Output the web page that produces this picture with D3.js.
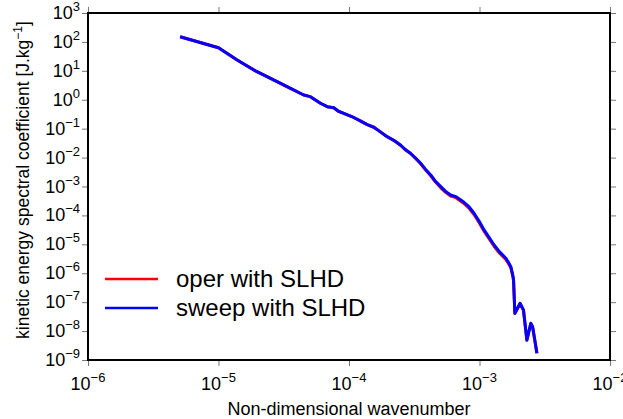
<!DOCTYPE html>
<html>
<head>
<meta charset="utf-8">
<script src="https://cdn.jsdelivr.net/npm/d3@7"></script>
<style>
body { margin: 0; background: #fff; }
text { font-family: "Liberation Sans", Arial, sans-serif; fill: #000; }
.tick line { stroke: #777; }
</style>
</head>
<body>
<svg id="chart" width="623" height="419"></svg>
<script>
// non-dimensional wavenumber (shared by both runs)
const wavenumber = [5.08e-6, 1.0e-5, 1.39e-5, 1.97e-5, 2.81e-5, 3.56e-5, 4.50e-5, 5.06e-5, 6.04e-5, 6.81e-5,
    7.64e-5, 8.3e-5, 9.12e-5, 1.05e-4, 1.22e-4, 1.38e-4, 1.55e-4, 1.75e-4, 1.96e-4, 2.2e-4,
    2.48e-4, 2.7e-4, 2.96e-4, 3.25e-4, 3.54e-4, 3.85e-4, 4.23e-4, 4.6e-4, 5.05e-4, 5.5e-4,
    6.01e-4, 6.6e-4, 7.1e-4, 7.6e-4, 8.3e-4, 9.08e-4, 1.0e-3, 1.084e-3, 1.18e-3, 1.294e-3,
    1.42e-3, 1.592e-3, 1.68e-3, 1.738e-3, 1.80e-3, 1.824e-3, 1.866e-3, 2.046e-3, 2.173e-3, 2.307e-3,
    2.472e-3, 2.553e-3, 2.754e-3];

// kinetic energy spectral coefficient [J/kg]
const operSLHD = [151, 63.1, 23.7, 9.33, 4.22, 2.49, 1.46, 1.28, 0.755, 0.575,
    0.531, 0.40, 0.340, 0.263, 0.185, 0.138, 0.112, 0.0759, 0.0528, 0.0395,
    0.0268, 0.0186, 0.0138, 9.2e-3, 6.1e-3, 3.8e-3, 2.35e-3, 1.42e-3, 9.0e-4, 6.3e-4,
    4.7e-4, 4.1e-4, 3.2e-4, 2.6e-4, 1.8e-4, 1.08e-4, 5.4e-5, 2.85e-5, 1.6e-5, 8.6e-6,
    5.0e-6, 3.0e-6, 2.05e-6, 1.55e-6, 8.0e-7, 5.5e-7, 4.0e-8, 8.8e-8, 5.2e-8, 4.8e-9,
    1.8e-8, 1.38e-8, 1.7e-9];

const sweepSLHD = [151, 63.1, 23.7, 9.33, 4.22, 2.49, 1.46, 1.28, 0.755, 0.575,
    0.531, 0.40, 0.340, 0.263, 0.185, 0.138, 0.112, 0.0759, 0.0528, 0.0398,
    0.0273, 0.019, 0.0141, 9.5e-3, 6.35e-3, 3.98e-3, 2.50e-3, 1.51e-3, 9.86e-4, 6.76e-4,
    5.09e-4, 4.47e-4, 3.55e-4, 2.84e-4, 2.0e-4, 1.19e-4, 6.0e-5, 3.14e-5, 1.78e-5, 9.5e-6,
    5.6e-6, 3.30e-6, 2.24e-6, 1.69e-6, 8.5e-7, 5.86e-7, 4.13e-8, 9.16e-8, 5.37e-8, 4.93e-9,
    1.86e-8, 1.42e-8, 1.71e-9];

const xExponents = [-6, -5, -4, -3, -2];
const yExponents = [-9, -8, -7, -6, -5, -4, -3, -2, -1, 0, 1, 2, 3];
const seriesNames = ["oper with SLHD", "sweep with SLHD"];
const seriesColors = ["#ff0000", "#0000ff"];

const width = 623, height = 419;
const margin = {top: 13, right: 13, bottom: 59, left: 88};

const svg = d3.select("#chart");

const x = d3.scaleLog().domain([1e-6, 1e-2]).range([margin.left, width - margin.right]);
const y = d3.scaleLog().domain([1e-9, 1e3]).range([height - margin.bottom, margin.top]);

const xTicks = xExponents.map(e => Math.pow(10, e));
const yTicks = yExponents.map(e => Math.pow(10, e));
const minus = e => (e < 0 ? "\u2212" + (-e) : "" + e);

// axes (ticks only, labels drawn below)
const drawAxis = (axis, tr) => {
    const g = svg.append("g").attr("transform", tr).call(axis);
    g.select(".domain").remove();
    g.selectAll(".tick line").attr("stroke", "#777").attr("stroke-width", 1);
    g.selectAll(".tick text").remove();
    return g;
};
drawAxis(d3.axisBottom(x).tickValues(xTicks).tickSize(6), `translate(0,${height - margin.bottom})`);
drawAxis(d3.axisTop(x).tickValues(xTicks).tickSize(6), `translate(0,${margin.top})`);
drawAxis(d3.axisLeft(y).tickValues(yTicks).tickSize(6), `translate(${margin.left},0)`);
drawAxis(d3.axisRight(y).tickValues(yTicks).tickSize(6), `translate(${width - margin.right},0)`);

// tick labels with superscripts
const xl = svg.append("g").selectAll("text").data(xExponents).join("text")
    .attr("x", d => x(Math.pow(10, d)))
    .attr("y", 390)
    .attr("text-anchor", "middle")
    .style("font-size", "18px");
xl.append("tspan").text("10");
xl.append("tspan").attr("dy", -8).style("font-size", "13px").text(d => minus(d));

const yl = svg.append("g").selectAll("text").data(yExponents).join("text")
    .attr("x", 80)
    .attr("y", d => y(Math.pow(10, d)) + 6)
    .attr("text-anchor", "end")
    .style("font-size", "18px");
yl.append("tspan").text("10");
yl.append("tspan").attr("dy", -8).style("font-size", "13px").text(d => minus(d));

// data lines
const line = d3.line().x(d => x(d[0])).y(d => y(d[1]));
[operSLHD, sweepSLHD].forEach((vals, i) => {
    svg.append("path")
        .datum(wavenumber.map((k, j) => [k, vals[j]]))
        .attr("fill", "none")
        .attr("stroke", seriesColors[i])
        .attr("stroke-width", 3)
        .attr("stroke-linejoin", "round")
        .attr("d", line);
});

// frame
svg.append("rect")
    .attr("x", margin.left).attr("y", margin.top)
    .attr("width", width - margin.left - margin.right)
    .attr("height", height - margin.top - margin.bottom)
    .attr("fill", "none").attr("stroke", "#000").attr("stroke-width", 2);

// legend
seriesNames.forEach((name, i) => {
    const lg = svg.append("g").attr("transform", `translate(105,${279 + i * 29})`);
    lg.append("line").attr("x1", 0).attr("x2", 53)
        .attr("stroke", seriesColors[i]).attr("stroke-width", 2.5);
    lg.append("text").attr("x", 71).attr("y", 8).style("font-size", "24px").text(name);
});

// axis labels
svg.append("text")
    .attr("x", 349).attr("y", 415)
    .attr("text-anchor", "middle")
    .style("font-size", "18px")
    .text("Non-dimensional wavenumber");

const yLab = svg.append("text")
    .attr("transform", "translate(29,180) rotate(-90)")
    .attr("text-anchor", "middle")
    .style("font-size", "17.5px");
yLab.append("tspan").text("kinetic energy spectral coefficient [J.kg");
yLab.append("tspan").attr("dy", -7).style("font-size", "12px").text("\u22121");
yLab.append("tspan").attr("dy", 7).text("]");
</script>
</body>
</html>
